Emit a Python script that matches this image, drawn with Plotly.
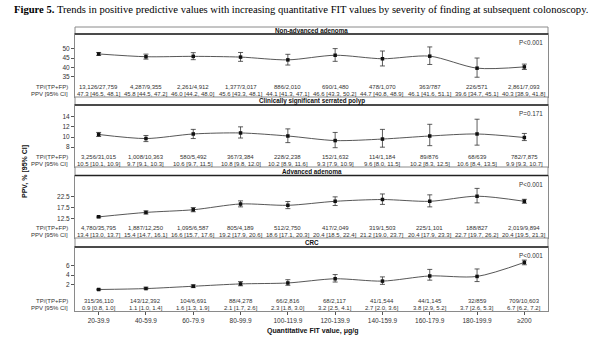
import plotly.graph_objects as go

# ---------------- data ----------------
fit_bins = ["20-39.9", "40-59.9", "60-79.9", "80-99.9", "100-119.9",
            "120-139.9", "140-159.9", "160-179.9", "180-199.9", "\u2265200"]

panel_names = ["Non-advanced adenoma", "Clinically significant serrated polyp",
               "Advanced adenoma", "CRC"]
p_values = ["P<0.001", "P=0.171", "P<0.001", "P<0.001"]

nonadv_tp = [13126, 4287, 2261, 1377, 886, 690, 478, 363, 226, 2861]
nonadv_n = [27759, 9355, 4912, 3017, 2010, 1480, 1070, 787, 571, 7093]
nonadv_ppv = [47.3, 45.8, 46.0, 45.6, 44.1, 46.6, 44.7, 46.1, 39.6, 40.3]
nonadv_lo = [46.5, 44.5, 44.2, 43.3, 41.3, 43.3, 40.8, 41.6, 34.7, 38.9]
nonadv_hi = [48.1, 47.2, 48.0, 48.1, 47.1, 50.2, 48.9, 51.1, 45.1, 41.8]

serr_tp = [3256, 1008, 580, 367, 228, 152, 114, 89, 68, 782]
serr_n = [31015, 10363, 5492, 3384, 2238, 1632, 1184, 876, 639, 7875]
serr_ppv = [10.5, 9.7, 10.6, 10.8, 10.2, 9.3, 9.6, 10.2, 10.6, 9.9]
serr_lo = [10.1, 9.1, 9.7, 9.8, 8.9, 7.9, 8.0, 8.3, 8.4, 9.3]
serr_hi = [10.9, 10.3, 11.5, 12.0, 11.6, 10.9, 11.5, 12.5, 13.5, 10.7]

adv_tp = [4780, 1887, 1095, 805, 512, 417, 319, 225, 188, 2019]
adv_n = [35795, 12250, 6587, 4189, 2750, 2049, 1503, 1101, 827, 9894]
adv_ppv = [13.4, 15.4, 16.6, 19.2, 18.6, 20.4, 21.2, 20.4, 22.7, 20.4]
adv_lo = [13.0, 14.7, 15.7, 17.9, 17.1, 18.5, 19.0, 17.9, 19.7, 19.5]
adv_hi = [13.7, 16.1, 17.6, 20.6, 20.3, 22.4, 23.7, 23.3, 26.2, 21.3]

crc_tp = [315, 143, 104, 88, 66, 68, 41, 44, 32, 709]
crc_n = [36110, 12392, 6691, 4278, 2816, 2117, 1544, 1145, 859, 10603]
crc_ppv = [0.9, 1.1, 1.6, 2.1, 2.3, 3.2, 2.7, 3.8, 3.7, 6.7]
crc_lo = [0.8, 1.0, 1.3, 1.7, 1.8, 2.5, 2.0, 2.9, 2.6, 6.2]
crc_hi = [1.0, 1.4, 1.9, 2.6, 3.0, 4.1, 3.6, 5.2, 5.3, 7.2]

y_ticks = [[35, 40, 45, 50], [8, 10, 12, 14], [12.5, 17.5, 22.5], [2, 4, 6]]
y_ranges = [[24, 58.1], [4.1, 16.3], [3.9, 32.0], [-3.7, 10.0]]

panels = [
    (nonadv_tp, nonadv_n, nonadv_ppv, nonadv_lo, nonadv_hi),
    (serr_tp, serr_n, serr_ppv, serr_lo, serr_hi),
    (adv_tp, adv_n, adv_ppv, adv_lo, adv_hi),
    (crc_tp, crc_n, crc_ppv, crc_lo, crc_hi),
]

# ---------------- layout geometry (pixels) ----------------
W, H = 606, 355
ML, MR, MT, MB = 75, 58, 27, 44
plot_top, plot_bot = MT, H - MB
ph = plot_bot - plot_top


def py2paper(py):
    return (plot_bot - py) / ph


# header strip top, header bottom (= plot top), plot bottom
panel_px = [(27, 34, 97), (97, 105, 167), (167, 175.5, 238), (238, 247, 311)]

FONT = "Liberation Sans"
TS = 6.0
fig = go.Figure()
annotations = []
shapes = []

for i, (tp, n, ppv, lo, hi) in enumerate(panels):
    k = i + 1
    xa = "x" if k == 1 else f"x{k}"
    ya = "y" if k == 1 else f"y{k}"
    xs = list(range(len(fit_bins)))
    fig.add_trace(go.Scatter(
        x=xs, y=ppv, xaxis=xa, yaxis=ya, mode="lines+markers",
        line=dict(color="#444444", width=0.9, shape="spline", smoothing=0.8),
        marker=dict(symbol="square", size=3.5, color="#111111"),
        error_y=dict(type="data", symmetric=False,
                     array=[h - p for h, p in zip(hi, ppv)],
                     arrayminus=[p - l for p, l in zip(ppv, lo)],
                     color="#333333", thickness=0.8, width=2.5),
        showlegend=False, hoverinfo="skip"))

    htop, ptop, pbot = panel_px[i]
    dom = [py2paper(pbot), py2paper(ptop)]
    xkey = "xaxis" if k == 1 else f"xaxis{k}"
    ykey = "yaxis" if k == 1 else f"yaxis{k}"
    last = (k == 4)
    fig.update_layout(**{
        xkey: dict(domain=[0, 1], anchor=ya, range=[-0.5, len(fit_bins) - 0.5],
                   tickvals=xs, ticktext=fit_bins, showticklabels=last,
                   ticks="outside" if last else "", ticklen=3, tickcolor="#555",
                   tickfont=dict(family=FONT, size=6.5, color="#333"),
                   showgrid=False, zeroline=False, showline=True, mirror=True,
                   linecolor="#8a8a8a", linewidth=1,
                   matches=None if k == 4 else "x4"),
        ykey: dict(domain=dom, anchor=xa, range=y_ranges[i], tickvals=y_ticks[i],
                   ticks="outside", ticklen=3, tickcolor="#555",
                   tickfont=dict(family=FONT, size=6.5, color="#333"),
                   showgrid=False, zeroline=False, showline=True, mirror=True,
                   linecolor="#8a8a8a", linewidth=1),
    })

    # header strip
    shapes.append(dict(type="rect", xref="paper", yref="paper", x0=0, x1=1,
                       y0=py2paper(ptop), y1=py2paper(htop),
                       line=dict(color="#8a8a8a", width=1), fillcolor="white"))
    shapes.append(dict(type="line", xref="paper", yref="paper", x0=0, x1=1,
                       y0=py2paper(ptop), y1=py2paper(ptop),
                       line=dict(color="#222", width=1.6)))
    annotations.append(dict(text=f"<b>{panel_names[i]}</b>", xref="paper", yref="paper",
                            x=0.5, y=py2paper((htop + ptop) / 2), showarrow=False,
                            xanchor="center", yanchor="middle",
                            font=dict(family=FONT, size=6.3, color="#111")))
    # p-value
    annotations.append(dict(text=p_values[i], xref=f"{xa} domain", yref=f"{ya} domain",
                            x=1, y=1, xanchor="right", yanchor="top", xshift=-3, yshift=-3,
                            showarrow=False, font=dict(family=FONT, size=6.3, color="#333")))
    # table rows
    for j in range(len(fit_bins)):
        annotations.append(dict(text=f"{tp[j]:,}/{n[j]:,}", xref=xa, yref=f"{ya} domain",
                                x=j, y=0, yshift=10, xanchor="center", yanchor="middle",
                                showarrow=False, font=dict(family=FONT, size=TS, color="#333")))
        annotations.append(dict(text=f"{ppv[j]:.1f} [{lo[j]:.1f}, {hi[j]:.1f}]", xref=xa,
                                yref=f"{ya} domain", x=j, y=0, yshift=3.5,
                                xanchor="center", yanchor="middle", showarrow=False,
                                font=dict(family=FONT, size=TS, color="#333")))
    annotations.append(dict(text="TP/(TP+FP)", xref="paper", yref=f"{ya} domain",
                            x=0, y=0, yshift=10, xshift=-5, xanchor="right", yanchor="middle",
                            showarrow=False, font=dict(family=FONT, size=TS, color="#333")))
    annotations.append(dict(text="PPV [95% CI]", xref="paper", yref=f"{ya} domain",
                            x=0, y=0, yshift=3.5, xshift=-5, xanchor="right", yanchor="middle",
                            showarrow=False, font=dict(family=FONT, size=TS, color="#333")))

# axis titles
annotations.append(dict(text="<b>PPV, % [95% CI]</b>", xref="paper", yref="paper",
                        x=(25 - ML) / (W - ML - MR), y=py2paper(172), textangle=-90,
                        showarrow=False, xanchor="center", yanchor="middle",
                        font=dict(family=FONT, size=7, color="#111")))
annotations.append(dict(text="<b>Quantitative FIT value, \u03bcg/g</b>", xref="paper",
                        yref="paper", x=(312 - ML) / (W - ML - MR), y=py2paper(331),
                        showarrow=False, xanchor="center", yanchor="middle",
                        font=dict(family=FONT, size=7, color="#111")))
# figure title
annotations.append(dict(
    text="<b>Figure 5.</b> Trends in positive predictive values with increasing quantitative "
         "FIT values by severity of finding at subsequent colonoscopy.",
    xref="paper", yref="paper", x=(12 - ML) / (W - ML - MR), y=py2paper(9),
    xanchor="left", yanchor="middle", showarrow=False,
    font=dict(family="Liberation Serif", size=10.6, color="#000")))

fig.update_layout(width=W, height=H, margin=dict(l=ML, r=MR, t=MT, b=MB),
                  paper_bgcolor="white", plot_bgcolor="white",
                  annotations=annotations, shapes=shapes,
                  font=dict(family=FONT))
fig.write_html("out.html", config={"displayModeBar": False},
               post_script="document.body.style.margin='0';"
                           "document.body.style.overflow='hidden';")
